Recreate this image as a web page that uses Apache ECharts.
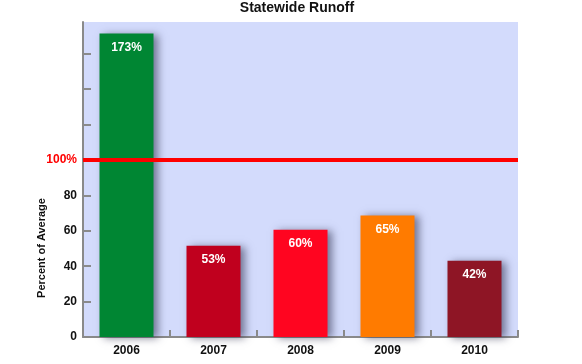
<!DOCTYPE html>
<html><head><meta charset="utf-8">
<script src="https://cdn.jsdelivr.net/npm/echarts@6/dist/echarts.min.js"></script>
<style>html,body{margin:0;padding:0;background:#fff}#c{width:582px;height:364px}</style>
</head><body><div id="c"></div>
<script>
const categories = ['2006', '2007', '2008', '2009', '2010'];
const barHeights = [171.5, 51.6, 60.6, 68.7, 43.1];
const barLabels = ['173%', '53%', '60%', '65%', '42%'];
const barColors = ['#008633', '#c0001e', '#ff0520', '#ff7b00', '#8e1525'];
const yTickValues = [0, 20, 40, 60, 80, 100, 120, 140, 160];
const yLabelValues = [0, 20, 40, 60, 80, 100];
const referenceLine = 100;

const chart = echarts.init(document.getElementById('c'));
chart.setOption({
  animation: false,
  title: {
    text: 'Statewide Runoff', left: 292, top: -4, textAlign: 'center',
    textStyle: { fontFamily: 'Liberation Sans', fontSize: 14, fontWeight: 'bold', color: '#111' }
  },
  grid: { left: 83, right: 64, top: 22, bottom: 27, show: true, backgroundColor: '#d3dbfc', borderWidth: 0 },
  xAxis: {
    type: 'category', data: categories,
    axisLine: { lineStyle: { color: '#8a8a8a', width: 2 } },
    axisTick: { show: true, inside: true, length: 7, lineStyle: { color: '#8a8a8a', width: 2 } },
    axisLabel: { fontFamily: 'Liberation Sans', fontSize: 12, fontWeight: 'bold', color: '#111', margin: 8 }
  },
  yAxis: {
    type: 'value', min: 0, max: 178, interval: 20,
    splitLine: { show: false },
    axisLine: { show: true, lineStyle: { color: '#8a8a8a', width: 2 } },
    axisTick: { show: true, inside: true, length: 8, lineStyle: { color: '#8a8a8a', width: 2 }, customValues: yTickValues },
    axisLabel: {
      customValues: yLabelValues, margin: 6,
      fontFamily: 'Liberation Sans', fontSize: 12, fontWeight: 'bold', color: '#111',
      formatter: v => v === referenceLine ? '{r|100%}' : String(v),
      rich: { r: { color: '#ff0000', fontFamily: 'Liberation Sans', fontSize: 12, fontWeight: 'bold' } }
    }
  },
  graphic: [{
    type: 'text', x: 42, y: 248, rotation: Math.PI / 2,
    style: { text: 'Percent of Average', fontFamily: 'Liberation Sans', fontSize: 11, fontWeight: 'bold', fill: '#111', align: 'center', verticalAlign: 'middle' }
  }],
  series: [{
    type: 'bar', barWidth: 54,
    data: barHeights.map((v, i) => ({
      value: v,
      itemStyle: { color: barColors[i] },
      label: { formatter: barLabels[i] }
    })),
    itemStyle: { shadowBlur: 8, shadowOffsetX: 4, shadowOffsetY: 1, shadowColor: 'rgba(50,50,80,0.6)' },
    label: { show: true, position: 'insideTop', distance: 8, color: '#fff', fontFamily: 'Liberation Sans', fontSize: 12, fontWeight: 'bold' },
    markLine: {
      silent: true, symbol: 'none', label: { show: false },
      lineStyle: { color: '#ff0000', width: 4, type: 'solid' },
      data: [{ yAxis: referenceLine }]
    }
  }]
});
</script></body></html>
